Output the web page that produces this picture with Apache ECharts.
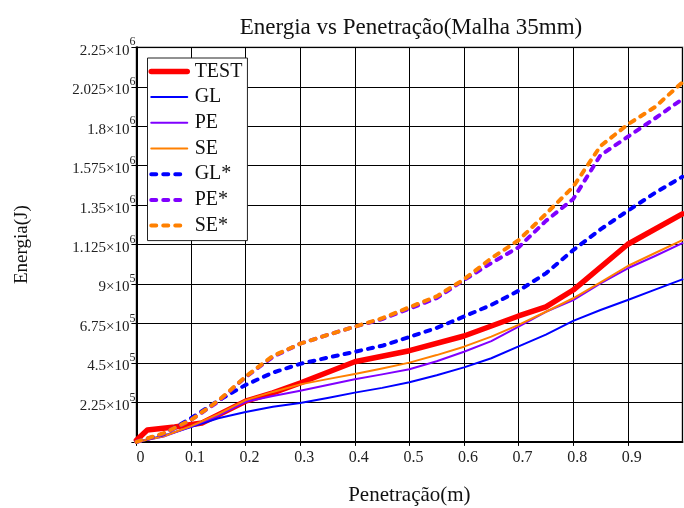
<!DOCTYPE html>
<html><head><meta charset="utf-8">
<script src="https://cdn.jsdelivr.net/npm/echarts@6/dist/echarts.min.js"></script>
<style>html,body{margin:0;padding:0;background:#fff}#c{width:684px;height:508px}</style>
</head><body><div id="c"></div>
<script>
const xs = [0,0.05,0.1,0.15,0.2,0.25,0.3,0.35,0.4,0.45,0.5,0.55,0.6,0.65,0.7,0.75,0.8,0.85,0.9,0.95,1.0];
const testX = [0,0.02,0.07,0.12,0.2,0.25,0.3,0.4,0.5,0.6,0.7,0.75,0.8,0.9,1.0];
const testY = [10e3,68e3,85e3,108e3,232e3,280e3,336e3,457e3,520e3,604e3,718e3,770e3,866e3,1127e3,1300e3];
const GL  = [0,35e3,85e3,135e3,170e3,200e3,222e3,250e3,281e3,308e3,340e3,380e3,425e3,477e3,545e3,612e3,690e3,752e3,809e3,868e3,927e3];
const PE  = [0,30e3,88e3,150e3,229e3,262e3,292e3,325e3,357e3,385e3,414e3,460e3,514e3,575e3,657e3,742e3,808e3,904e3,990e3,1060e3,1133e3];
const SE  = [0,32e3,90e3,158e3,238e3,285e3,328e3,358e3,387e3,418e3,452e3,495e3,543e3,600e3,667e3,742e3,819e3,910e3,1003e3,1077e3,1151e3];
const GLs = [0,45e3,135e3,235e3,325e3,395e3,445e3,480e3,514e3,548e3,598e3,650e3,715e3,781e3,862e3,961e3,1094e3,1212e3,1318e3,1420e3,1512e3];
const PEs = [0,46e3,125e3,230e3,370e3,485e3,560e3,610e3,657e3,700e3,760e3,820e3,923e3,1020e3,1110e3,1260e3,1385e3,1635e3,1740e3,1845e3,1955e3];
const SEs = [0,50e3,125e3,235e3,372e3,490e3,560e3,610e3,657e3,705e3,768e3,830e3,927e3,1047e3,1150e3,1300e3,1455e3,1687e3,1810e3,1910e3,2050e3];
const names = ['TEST','GL','PE','SE','GL*','PE*','SE*'];

const F = "'Liberation Serif','Times New Roman',serif";
const pair = (x, y) => x.map((v, i) => [v, y[i]]);
function solid(name, color, w, data) {
  return {name, type:'line', data, showSymbol:false, symbol:'none', smooth:false,
    lineStyle:{color, width:w, cap:'round', join:'round'}, itemStyle:{color}};
}
function dashed(name, color, data) {
  return {name, type:'line', data, showSymbol:false, symbol:'none',
    lineStyle:{color, width:4, type:[5,7], cap:'round'}, itemStyle:{color}};
}
const chart = echarts.init(document.getElementById('c'));
chart.setOption({
  animation:false,
  backgroundColor:'#fff',
  title:{text:'Energia vs Penetração(Malha 35mm)', left:406, textAlign:'center', top:11,
    textStyle:{fontFamily:F, fontSize:23, fontWeight:'normal', color:'#111'}},
  legend:{data:names, orient:'vertical', left:147.5, top:58, itemWidth:36, itemHeight:12, itemGap:5.7,
    padding:[3.4,5,5,1], borderColor:'#222', borderWidth:1, backgroundColor:'#fff',
    itemStyle:{opacity:0}, lineStyle:{width:'inherit'},
    textStyle:{fontFamily:F, fontSize:20, color:'#111', padding:[0,0,0,2.4]}},
  grid:{left:136.4, right:1.6, top:47.3, bottom:66.1, show:true, borderColor:'#aaa', borderWidth:2,
    containLabel:false, outerBoundsMode:'none'},
  xAxis:{type:'value', min:0, max:1, interval:0.1,
    name:'Penetração(m)', nameLocation:'middle', nameGap:43,
    nameTextStyle:{fontFamily:F, fontSize:21, color:'#111'},
    axisLine:{show:true, onZero:false, lineStyle:{color:'#000', width:2}},
    axisTick:{show:true, length:4, lineStyle:{color:'#000'}},
    axisLabel:{showMaxLabel:false, fontFamily:F, fontSize:16, color:'#222', margin:8, padding:[0,0,0,8],
      formatter:v => String(Math.round(v*10)/10)},
    splitLine:{show:true, lineStyle:{color:'#000', width:1}}},
  yAxis:{type:'value', min:0, max:2.25e6, interval:2.25e5,
    name:'Energia(J)', nameLocation:'middle', nameGap:105, nameRotate:90,
    nameTextStyle:{fontFamily:F, fontSize:19, color:'#111'},
    axisLine:{show:true, lineStyle:{color:'#000', width:2}},
    axisTick:{show:true, length:5, lineStyle:{color:'#000'}},
    axisLabel:{margin:1, fontFamily:F, color:'#222',
      formatter:v => {
        if (v === 0) return '';
        const e = Math.floor(Math.log10(v) + 1e-9);
        const m = parseFloat((v / Math.pow(10, e)).toFixed(4));
        return '{m|' + m + '×10}{s|' + e + '}';
      },
      rich:{m:{fontFamily:F, fontSize:15, color:'#222', lineHeight:22, verticalAlign:'bottom'},
            s:{fontFamily:F, fontSize:12, color:'#222', lineHeight:12, verticalAlign:'top'}}},
    splitLine:{show:true, lineStyle:{color:'#000', width:1}}},
  series:[
    solid('TEST', '#ff0000', 5.5, pair(testX, testY)),
    solid('GL', '#0000ff', 2, pair(xs, GL)),
    solid('PE', '#8000ff', 2, pair(xs, PE)),
    solid('SE', '#ff8000', 2, pair(xs, SE)),
    dashed('GL*', '#0000ff', pair(xs, GLs)),
    dashed('PE*', '#8000ff', pair(xs, PEs)),
    dashed('SE*', '#ff8000', pair(xs, SEs))
  ]
});
</script></body></html>
